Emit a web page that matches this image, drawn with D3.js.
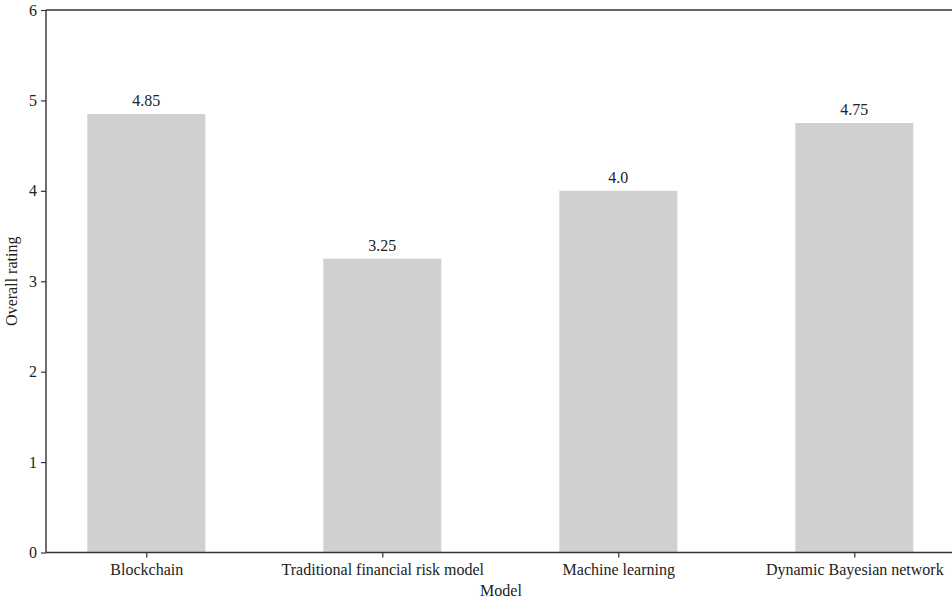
<!DOCTYPE html>
<html><head><meta charset="utf-8">
<script src="https://cdn.jsdelivr.net/npm/d3@7/dist/d3.min.js"></script>
<style>body{margin:0;background:#fff}svg{display:block}text{font-family:"Liberation Serif","Times New Roman",serif}</style>
</head><body>
<svg id="c" width="952" height="600"></svg>
<script>
const categories = ["Blockchain","Traditional financial risk model","Machine learning","Dynamic Bayesian network"];
const ratings = [4.85, 3.25, 4.0, 4.75];
const valueLabels = ["4.85","3.25","4.0","4.75"];
const yTicks = [0,1,2,3,4,5,6];

const svg = d3.select("#c");
const mLeft = 46, mTop = 10, mBottom = 552.5;
const x = d3.scaleLinear().domain([-0.425, 3.425]).range([mLeft, mLeft + 3.85*236]);
const y = d3.scaleLinear().domain([0, 6]).range([mBottom, mTop]);
const barW = 0.5;
const fs = 16;

svg.selectAll("rect.bar").data(ratings).join("rect")
  .attr("class","bar")
  .attr("x",(d,i)=>x(i-barW/2)).attr("width",(d,i)=>x(i+barW/2)-x(i-barW/2))
  .attr("y",d=>y(d)).attr("height",d=>y(0)-y(d))
  .attr("fill","#d0d0d0");

svg.selectAll("text.val").data(ratings).join("text")
  .attr("class","val")
  .attr("x",(d,i)=>x(i)).attr("y",d=>y(d)-8)
  .attr("text-anchor","middle").attr("font-size",fs).attr("fill","#222")
  .text((d,i)=>valueLabels[i]);

const yAxis = svg.append("g").attr("transform",`translate(${mLeft},0)`)
  .call(d3.axisLeft(y).tickValues(yTicks).tickFormat(d3.format("d")).tickSize(5).tickPadding(4));
const xAxis = svg.append("g").attr("transform",`translate(0,${mBottom})`)
  .call(d3.axisBottom(x).tickValues(d3.range(categories.length)).tickFormat(i=>categories[i]).tickSize(5).tickPadding(6));
[yAxis,xAxis].forEach(g=>{
  g.select(".domain").remove();
  g.selectAll("line").attr("stroke","#333").attr("stroke-width",1.2);
  g.selectAll("text").attr("font-size",fs).attr("fill","#222").style("font-family",'"Liberation Serif",serif');
});
svg.append("line").attr("x1",mLeft).attr("x2",mLeft).attr("y1",mTop).attr("y2",mBottom).attr("stroke","#333").attr("stroke-width",1.4);
svg.append("line").attr("x1",mLeft).attr("x2",952).attr("y1",mBottom).attr("y2",mBottom).attr("stroke","#333").attr("stroke-width",1.4);
svg.append("line").attr("x1",mLeft).attr("x2",952).attr("y1",mTop).attr("y2",mTop).attr("stroke","#333").attr("stroke-width",1.4);

svg.append("text").attr("x",501).attr("y",596).attr("text-anchor","middle").attr("font-size",fs).attr("fill","#222").text("Model");
svg.append("text").attr("transform",`translate(17,${(mTop+mBottom)/2}) rotate(-90)`).attr("text-anchor","middle").attr("font-size",fs).attr("fill","#222").text("Overall rating");
</script>
</body></html>
